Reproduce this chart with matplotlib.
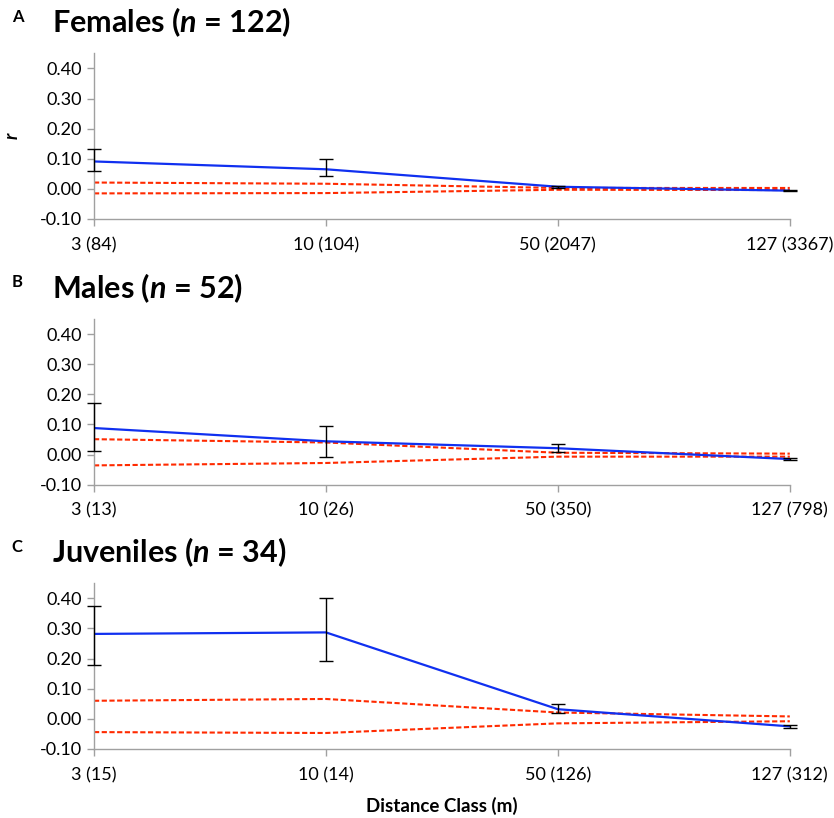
import numpy as np
import matplotlib
matplotlib.use("Agg")
import matplotlib.pyplot as plt

plt.rcParams['font.family'] = ['Lato', 'DejaVu Sans']
plt.rcParams['mathtext.fontset'] = 'custom'
plt.rcParams['mathtext.it'] = 'Lato:italic:bold'

# Data
panels = ["A", "B", "C"]
titles = ["Females ($n$ = 122)", "Males ($n$ = 52)", "Juveniles ($n$ = 34)"]
tick_labels = [
    ["3 (84)", "10 (104)", "50 (2047)", "127 (3367)"],
    ["3 (13)", "10 (26)", "50 (350)", "127 (798)"],
    ["3 (15)", "10 (14)", "50 (126)", "127 (312)"],
]
r_values = [
    [0.091, 0.065, 0.007, -0.006],
    [0.088, 0.044, 0.021, -0.015],
    [0.282, 0.287, 0.032, -0.025],
]
err_low = [
    [0.060, 0.043, 0.004, -0.008],
    [0.011, -0.007, 0.008, -0.018],
    [0.180, 0.193, 0.020, -0.031],
]
err_high = [
    [0.131, 0.098, 0.010, -0.004],
    [0.172, 0.095, 0.034, -0.012],
    [0.375, 0.400, 0.050, -0.020],
]
upper_ci = [
    [0.021, 0.017, 0.003, 0.003],
    [0.051, 0.040, 0.006, 0.003],
    [0.060, 0.066, 0.021, 0.008],
]
lower_ci = [
    [-0.015, -0.014, -0.003, -0.004],
    [-0.036, -0.028, -0.007, -0.007],
    [-0.044, -0.047, -0.015, -0.008],
]

fig = plt.figure(figsize=(8.34, 8.18), dpi=100)
bottoms = [0.7323, 0.4075, 0.0844]
height = 0.2025
x = np.arange(4)

for i in range(3):
    ax = fig.add_axes([0.1127, bottoms[i], 0.8343, height])
    r = np.array(r_values[i])
    yerr = [r - np.array(err_low[i]), np.array(err_high[i]) - r]
    ax.plot(x, upper_ci[i], color="#ff2a00", lw=1.5, ls=(0, (2.5, 1.2)), zorder=2)
    ax.plot(x, lower_ci[i], color="#ff2a00", lw=1.5, ls=(0, (2.5, 1.2)), zorder=2)
    ax.plot(x, r, color="#1030f0", lw=1.6, zorder=3)
    eb = ax.errorbar(x, r, yerr=yerr, fmt="none", ecolor="black", elinewidth=1,
                     capsize=5, capthick=1, zorder=4)
    for art in eb.lines[1] + eb.lines[2]:
        art.set_clip_on(False)

    ax.set_xlim(0, 3)
    ax.set_ylim(-0.10, 0.45)
    ax.set_yticks([-0.10, 0.0, 0.10, 0.20, 0.30, 0.40])
    ax.set_yticklabels(["%.2f" % v for v in [-0.10, 0.0, 0.10, 0.20, 0.30, 0.40]])
    ax.set_xticks(x)
    ax.set_xticklabels(tick_labels[i])
    ax.tick_params(axis="both", labelsize=13, color="#a0a0a0", length=5, width=1)
    ax.tick_params(axis="x", pad=8)
    for side in ["top", "right"]:
        ax.spines[side].set_visible(False)
    for side in ["left", "bottom"]:
        ax.spines[side].set_color("#a0a0a0")
        ax.spines[side].set_linewidth(1)
    ax.patch.set_alpha(0)

    top = bottoms[i] + height
    fig.text(0.014, top + 0.045, panels[i], fontsize=12, fontweight="bold",
             va="center", ha="left")
    fig.text(0.062, top + 0.038, titles[i], fontsize=22, fontweight="bold",
             va="center", ha="left")

    if i == 0:
        ax.set_ylabel("r", fontsize=13, fontweight="bold", style="italic",
                      labelpad=14)
    if i == 2:
        ax.set_xlabel("Distance Class (m)", fontsize=13.5, fontweight="bold",
                      labelpad=10)

fig.savefig("out.png", dpi=100)
